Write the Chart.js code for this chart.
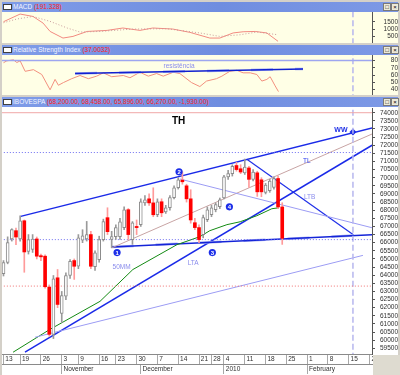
<!DOCTYPE html>
<html>
<head>
<meta charset="utf-8">
<script src="https://cdn.jsdelivr.net/npm/chart.js@4.4.1/dist/chart.umd.min.js"></script>
<style>
  html,body{margin:0;padding:0}
  body{width:400px;height:375px;background:#d4d0c8;position:relative;overflow:hidden;font-family:"Liberation Sans",Arial,sans-serif}
  .hdr{position:absolute;left:2px;width:396px;height:10px;background:linear-gradient(90deg,#7f9ce8,#6f8de0 55%,#7d99e6);font-size:6.5px;line-height:10px;white-space:nowrap}
  .hdr .ico{position:absolute;left:1px;top:2px;width:9px;height:6px;background:#fff;border:1px solid #404040;box-sizing:border-box}
  .hdr .t{position:absolute;left:11px;top:0;color:#f4f6ff}
  .hdr .t span{color:#ff1c1c}
  .hdr .b{position:absolute;top:1px;width:8px;height:8px;background:#ece9d8;border:1px solid #7a7a7a;box-sizing:border-box;font-size:6px;line-height:6px;text-align:center;color:#000}
  canvas{position:absolute;left:2px}
  .corner{position:absolute;left:373px;top:355px;width:27px;height:20px;background:#dedbd0}
</style>
</head>
<body>
<div class="hdr" style="top:2px"><div class="ico"></div><div class="t">MACD <span>(191.328)</span></div><div class="b" style="left:381px">□</div><div class="b" style="left:389px">×</div></div>
<canvas id="macd" width="396" height="31" style="top:12px;background:#ffffe6"></canvas>
<div class="hdr" style="top:45px"><div class="ico"></div><div class="t">Relative Strength Index <span>(37.0032)</span></div><div class="b" style="left:381px">□</div><div class="b" style="left:389px">×</div></div>
<canvas id="rsi" width="396" height="40" style="top:55px;background:#ffffe6"></canvas>
<div class="hdr" style="top:97px"><div class="ico"></div><div class="t">IBOVESPA <span>(68,200.00, 68,458.00, 65,896.00, 66,270.00, -1,930.00)</span></div><div class="b" style="left:381px">□</div><div class="b" style="left:389px">×</div></div>
<canvas id="main" width="396" height="268" style="top:107px;background:#ffffff"></canvas>
<div class="corner"></div>
<script>
// x = trading day index, 0 = 13 Oct 2009 (last candle 22 Jan 2010 = 67)
const weekIdx = [0,4,9,14,18,23,27,32,37,42,47,50,53,58,63,68,73,78,83,88];
const weekLbl = ['13','19','26','3','9','16','23','30','7','14','21','28','4','11','18','25','1','8','15','22'];
const monthIdx = [14,33,53,73];
const monthLbl = ['November','December','2010','February'];
const yTicks = [59500,60000,60500,61000,61500,62000,62500,63000,63500,64000,64500,65000,65500,66000,66500,67000,67500,68000,68500,69000,69500,70000,70500,71000,71500,72000,72500,73000,73500,74000];
const macdTicks = [500,1000,1500];
const rsiTicks = [40,50,60,70,80];

const open  = [64100,64780,66230,66740,66230,67350,65470,65580,66230,65200,65170,63270,60360,63840,61650,62710,63980,64900,64550,66150,66230,66500,64520,64960,66190,67540,66200,66370,66370,66930,68030,66190,67000,67110,68450,68700,68450,67720,68520,67900,68150,68770,69380,69850,69500,68700,67230,66930,66500,67420,67720,68030,68210,68750,70050,70250,70750,70550,70300,70600,69900,70300,69870,69100,69200,69400,69950,68200];
const high  = [64900,66360,66860,66900,67660,67400,66500,66500,66350,65300,65250,63400,63980,64350,63000,64150,64960,65000,66500,66800,67310,66700,65500,66400,67450,68150,66700,67100,67500,68200,68100,67300,67400,68700,68900,69000,69380,68700,68700,68300,68900,69500,70000,70360,69600,69260,67500,67100,67700,68200,68300,68450,68750,70150,70450,70800,70950,70800,71150,70700,70500,70400,70000,69650,69900,70050,70100,68458];
const low   = [63950,64700,66100,65880,66100,64180,65300,65400,65000,64900,63200,60240,60100,62000,61080,62500,63800,63740,64400,66000,66100,64400,64300,64800,66100,66500,65700,66200,66200,66800,66200,65900,66500,67000,68300,68300,67600,67600,67600,67800,68000,68700,69300,69600,68500,67200,66800,66000,66300,67300,67600,67900,68100,68700,69900,70100,70400,70250,70200,69400,69800,68850,68830,69000,69100,69300,68100,65896];
const close = [64780,66000,66800,66350,67350,65430,66190,66230,65170,65130,63290,60360,63780,62200,62750,63980,64860,64550,66300,66430,66500,64550,65370,66190,67300,66680,66370,66930,67290,68030,66500,67230,66930,68520,68640,68450,67720,68520,67840,68150,68770,69380,69870,69750,68700,67400,66930,66190,67540,68030,68150,68340,68640,70050,70250,70700,70500,70350,70650,69900,70350,69130,69130,69550,69800,69950,68200,66270];

// 50MM: [day, value]
const mm50 = [[2.3,59260],[11.2,60670],[23.2,62390],[31.1,64350],[41.7,65880],[47.2,66370],[49.6,66740],[53.7,67110],[56.9,67290],[60.9,67660],[64.5,68090],[66.2,68150]];

const macdLine = [[0,1500],[4,2010],[7.1,1850],[9.5,1410],[11.2,850],[14.3,410],[16.7,520],[20.1,850],[24.9,920],[28.7,1080],[32.8,920],[35.9,1080],[40.7,1010],[44.8,790],[49.6,410],[52,410],[55.2,750],[57.6,830],[60.5,850],[63.3,750],[66,191]];
const macdSignal = [[0,1430],[3.2,1680],[7.1,1850],[11.2,1520],[15.3,1080],[18.4,810],[23.2,850],[31.1,1010],[39.3,1030],[47.2,750],[52,520],[56.9,630],[60.9,810],[66,630]];

const rsiLine = [[0,77],[0.8,79.6],[2.4,81],[3.2,77.3],[4,79.6],[5.2,65.1],[7.2,67.4],[9.2,60.7],[11.2,39.5],[12.4,53.9],[13.2,45.8],[14.4,49.5],[16.4,54.9],[18.4,59.3],[20.4,54.9],[22.4,58.4],[24,63],[26,57.6],[28.8,59.3],[30.4,56.2],[32.8,63.8],[34.8,58.4],[36.8,62],[38.4,58.4],[40.8,63.8],[42.4,62],[45.2,49.5],[47.2,44],[48.8,51.6],[51.2,54.9],[52.5,58.4],[54.4,65.1],[56.1,66.5],[57.6,63],[59.3,63],[60.9,60.7],[62.1,51.6],[63.3,53.9],[64.1,57.6],[65.3,44.9],[66.1,37]];
const rsiResist = [[17.2,62],[72,68.4]];

// drawn lines on the price panel
const trendUpper = [[4.13,67620],[88.6,73060]];
const trendLTA   = [[5.17,59260],[88.6,72000]];
const trendLow   = [[7.57,60180],[86.4,65220]];
const trendMid   = [[26,65680],[88.6,72690]];
const support    = [[26,65740],[88.6,66490]];
const trendLTB   = [[58.5,71140],[84.1,66490]];
const trendFall  = [[42.4,69920],[88.6,66920]];
const levels = {top:74000, blue1:71550, blue2:66190, red:63330};
const markerDay = 84;
const diamond = [[84,72820]];

const marks = [{t:'1',i:27.3,v:65390},{t:'2',i:42.2,v:70360},{t:'3',i:50.2,v:65390},{t:'4',i:54.3,v:68210}];
const mainNotes = [
  {t:'TH',i:42.1,v:73460,k:'big'},
  {t:'TL',i:72.9,v:71040,k:'blue'},
  {t:'LTB',i:73.6,v:68800,k:'light'},
  {t:'LTA',i:45.6,v:64750,k:'light'},
  {t:'50MM',i:28.4,v:64500,k:'light'},
  {t:'WW',i:81.1,v:72910,k:'blueb'}
];
const rsiNotes = [{t:'resistência',i:42.2,v:72.2,k:'light'}];

const FONT = '"Liberation Sans", Arial, sans-serif';
const noteStyle = {
  big:{font:'bold 10px '+FONT,color:'#000'},
  blue:{font:'6.5px '+FONT,color:'#2a3cf0'},
  light:{font:'6.5px '+FONT,color:'#8a8cec'},
  blueb:{font:'bold 7px '+FONT,color:'#1f30e6'}
};

Chart.defaults.font.family = FONT;
Chart.defaults.animation = false;
const X_MIN = -0.36, X_MAX = 88.58;

const pts = a => a.map(([x,y]) => ({x,y}));
const idx = open.map((_,i)=>i);
const isUp = idx.map(i => close[i] >= open[i]);

const notes = {
  id:'notes',
  afterDatasetsDraw(chart, args, opts){
    const ctx = chart.ctx, xs = chart.scales.x, ys = chart.scales.y;
    ctx.save();
    ctx.textAlign = 'center'; ctx.textBaseline = 'middle';
    (opts.marks||[]).forEach(m=>{
      const px = xs.getPixelForValue(m.i), py = ys.getPixelForValue(m.v);
      ctx.beginPath(); ctx.arc(px,py,3.6,0,Math.PI*2);
      ctx.fillStyle = '#1c2ee8'; ctx.fill();
      ctx.fillStyle = '#fff'; ctx.font = 'bold 6px '+FONT;
      ctx.fillText(m.t,px,py+0.5);
    });
    (opts.items||[]).forEach(n=>{
      const st = noteStyle[n.k];
      ctx.font = st.font; ctx.fillStyle = st.color;
      ctx.fillText(n.t, xs.getPixelForValue(n.i), ys.getPixelForValue(n.v));
    });
    ctx.restore();
  }
};

function lineDs(data, color, width, extra){
  return Object.assign({type:'line', data:pts(data), borderColor:color, borderWidth:width, pointRadius:0, tension:0, fill:false, order:2}, extra||{});
}
function hLine(v, color, width, extra){ return lineDs([[X_MIN-1,v],[X_MAX+1,v]], color, width, extra); }
function vLine(lo, hi){ return lineDs([[markerDay,lo],[markerDay,hi]], '#b6b6ee', 1.5, {borderDash:[6,3]}); }

function yRight(min, max, ticks, padding){
  return {
    position:'right', min, max, bounds:'data',
    afterBuildTicks: s => { s.ticks = ticks.map(v=>({value:v})); },
    // fixed width, and no extra room above/below for the end labels
    afterFit: s => { s.width = 26; s.paddingTop = 0; s.paddingBottom = 0; },
    ticks:{font:{size:6.5}, color:'#303030', padding, crossAlign:'far', autoSkip:false, callback:v=>String(v)},
    grid:{drawOnChartArea:false, tickLength:3, color:'#555'},
    border:{color:'#555'}
  };
}
function xAxis(ids, lbls, weight){
  return {
    type:'linear', axis:'x', position:'bottom', min:X_MIN, max:X_MAX, bounds:'data', weight, offset:false,
    afterBuildTicks: s => { s.ticks = ids.map(v=>({value:v})); },
    afterFit: s => { s.height = 10; s.paddingLeft = 0; s.paddingRight = 0; },
    ticks:{callback:(v,k)=>' '+lbls[k], align:'start', autoSkip:false, maxRotation:0, font:{size:6.5}, color:'#303030', padding:-8.4},
    grid:{drawOnChartArea:false, tickLength:10, color:'#a8a8a8', offset:false},
    border:{color:'#8a8a8a'}
  };
}
const baseOpts = {responsive:false, maintainAspectRatio:false, devicePixelRatio:1, events:[]};

// MACD
new Chart(document.getElementById('macd'), {
  type:'line',
  data:{datasets:[
    lineDs(macdSignal,'#c89a9a',1,{borderDash:[1,2]}),
    lineDs(macdLine,'#f28a80',1),
    vLine(0,3000)
  ]},
  options:Object.assign({}, baseOpts, {
    layout:{padding:0, autoPadding:false},
    plugins:{legend:{display:false}, tooltip:{enabled:false}},
    scales:{ x:{type:'linear', min:X_MIN, max:X_MAX, display:false}, y:yRight(80,2147,macdTicks,5.5) }
  })
});

// RSI
new Chart(document.getElementById('rsi'), {
  type:'line',
  data:{datasets:[
    hLine(80,'#9ea6f0',1.5),
    lineDs(rsiResist,'#1020d0',1.5),
    lineDs(rsiResist,'#a9b1f2',2.5,{borderDash:[22,22],borderDashOffset:0}),
    lineDs(rsiLine,'#f2907e',1),
    vLine(0,100)
  ]},
  options:Object.assign({}, baseOpts, {
    layout:{padding:0, autoPadding:false},
    plugins:{legend:{display:false}, tooltip:{enabled:false}, notes:{items:rsiNotes}},
    scales:{ x:{type:'linear', min:X_MIN, max:X_MAX, display:false}, y:yRight(32.3,87.7,rsiTicks,12.8) }
  }),
  plugins:[notes]
});

// price panel
new Chart(document.getElementById('main'), {
  type:'bar',
  data:{datasets:[
    {type:'bar', data:idx.map(i=>({x:i,y:[open[i],close[i]]})), grouped:false, barThickness:3, borderSkipped:false,
     backgroundColor:idx.map(i=>isUp[i]?'#ffffff':'#ff0000'), borderColor:idx.map(i=>isUp[i]?'#8c8c8c':'#ff0000'),
     borderWidth:idx.map(i=>isUp[i]?1:0), order:0},
    {type:'bar', data:idx.map(i=>({x:i,y:[low[i],high[i]]})), grouped:false, barThickness:1,
     backgroundColor:idx.map(i=>isUp[i]?'#9a9a9a':'#ff9a9a'), order:1},
    hLine(levels.top,'#f0a8a8',1),
    hLine(levels.blue1,'#6c6cf0',1,{borderDash:[1,2]}),
    hLine(levels.blue2,'#6c6cf0',1,{borderDash:[1,2]}),
    hLine(levels.red,'#f07070',1,{borderDash:[1,2]}),
    vLine(50000,80000),
    lineDs(trendLow,'#9c9cf4',1),
    lineDs(trendFall,'#9c9cf4',1),
    lineDs(trendMid,'#c8a4a4',1),
    lineDs(mm50,'#138a13',1),
    lineDs(support,'#1424d8',1.5),
    lineDs(support,'#a9b1f2',2.5,{borderDash:[22,22]}),
    lineDs(trendUpper,'#1a2ae8',1.5),
    lineDs(trendLTA,'#1a2ae8',1.5),
    lineDs(trendLTB,'#2030e8',1.2),
    lineDs(diamond,'#1c2ee8',0,{showLine:false, pointRadius:3.5, pointStyle:'rectRot', pointBackgroundColor:'#1c2ee8', pointBorderWidth:0})
  ]},
  options:Object.assign({}, baseOpts, {
    layout:{padding:{top:1,bottom:1,left:0,right:0}, autoPadding:false},
    plugins:{legend:{display:false}, tooltip:{enabled:false}, notes:{marks, items:mainNotes}},
    scales:{
      x:xAxis(weekIdx, weekLbl, 0),
      m:xAxis(monthIdx, monthLbl, 1),
      y:yRight(59150,74290,yTicks,2)
    }
  }),
  plugins:[notes]
});
</script>
</body>
</html>
